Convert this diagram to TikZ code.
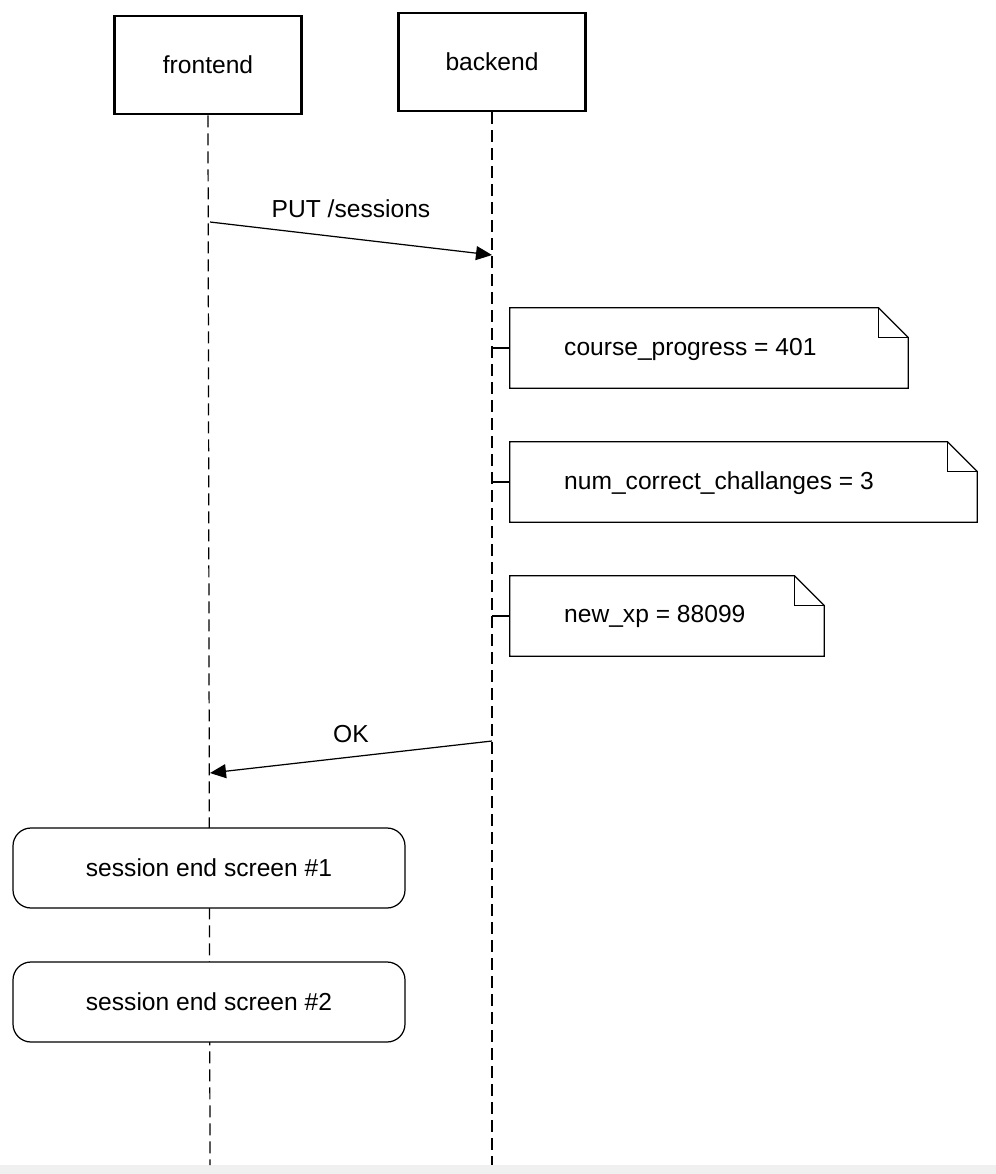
\documentclass[tikz,border=0pt]{standalone}
\usepackage{fontspec}
\setmainfont{Liberation Sans}
\usetikzlibrary{arrows.meta}

\tikzset{
  actor/.style={draw, line width=1.6pt, minimum width=187\px, minimum height=98\px, font=\fontsize{14}{16}\selectfont},
  lifeline/.style={dashed, dash pattern=on 12\px off 6\px, line width=0.7pt},
  msg/.style={-{Triangle[length=16\px, width=14\px]}, line width=0.7pt},
  state/.style={draw, rounded corners=18\px, minimum width=392\px, minimum height=80\px, line width=0.7pt, font=\fontsize{14}{16}\selectfont},
  note/.style={minimum height=80\px, inner sep=0pt, font=\fontsize{14}{16}\selectfont},
  lbl/.style={font=\fontsize{14}{16}\selectfont}
}
\newcommand{\px}{*0.02cm}
\newcommand{\notebox}[1]{% outline of a note with a folded corner
  \draw[line width=0.7pt] (#1.south west) -- (#1.north west) -- ([xshift=-30\px]#1.north east)
    -- ([yshift=-30\px]#1.north east) -- (#1.south east) -- cycle;
  \draw[line width=0.7pt] ([xshift=-30\px]#1.north east) |- ([yshift=-30\px]#1.north east);}

\begin{document}
\begin{tikzpicture}[x=0.02cm, y=-0.02cm]
  \useasboundingbox (0,0) rectangle (996,1174);
  \fill[black!6] (0,1165) rectangle (996,1174);

  % Actors
  \node[actor] (frontend) at (208,65) {frontend};
  \node[actor] (backend) at (492,62) {backend};
  \coordinate (fe-end) at (210,1165);
  \coordinate (be-end) at (492,1165);
  \draw[lifeline] (frontend.south) -- (fe-end);
  \draw[lifeline] (backend.south) -- (be-end);

  % Messages
  \coordinate (put-from) at (210,222);
  \coordinate (put-to) at (492,255);
  \draw[msg] (put-from) -- node[lbl, above=14\px, pos=0.5] (put) {PUT /sessions} (put-to);

  % Notes
  \node[note, minimum width=398\px] (n1) at (709,348) {};
  \node[lbl, anchor=west] (n1-text) at (558,349) {course\_progress = 401};
  \node[note, minimum width=467\px] (n2) at (743.5,482) {};
  \node[lbl, anchor=west] (n2-text) at (558,483) {num\_correct\_challanges = 3};
  \node[note, minimum width=314\px] (n3) at (667,616) {};
  \node[lbl, anchor=west] (n3-text) at (558,616) {new\_xp = 88099};
  \notebox{n1} \notebox{n2} \notebox{n3}
  \foreach \n/\y in {n1/348, n2/482, n3/616} {
    \coordinate (\n-ll) at (492,\y);
    \draw[line width=0.7pt] (\n-ll) -- (\n.west);
  }

  \coordinate (ok-from) at (492,741);
  \coordinate (ok-to) at (210,773);
  \draw[msg] (ok-from) -- node[lbl, above=8\px, pos=0.5] (ok) {OK} (ok-to);

  % States
  \node[state, fill=white] (end1) at (209,868) {session end screen \#1};
  \node[state, fill=white] (end2) at (209,1002) {session end screen \#2};
\end{tikzpicture}
\end{document}
